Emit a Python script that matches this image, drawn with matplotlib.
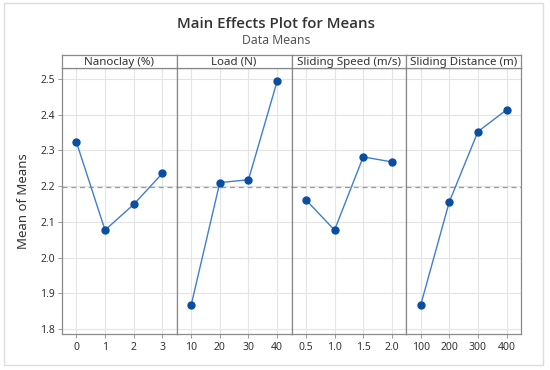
import matplotlib
matplotlib.use("Agg")
from matplotlib import pyplot as plt
from matplotlib.patches import Rectangle
import numpy as np

plt.rcParams['font.family'] = ['Noto Sans', 'DejaVu Sans']

factors = ["Nanoclay (%)", "Load (N)", "Sliding Speed (m/s)", "Sliding Distance (m)"]
nanoclay_levels = ["0", "1", "2", "3"]
load_levels = ["10", "20", "30", "40"]
speed_levels = ["0.5", "1.0", "1.5", "2.0"]
distance_levels = ["100", "200", "300", "400"]

nanoclay_means = [2.324, 2.077, 2.149, 2.236]
load_means = [1.866, 2.210, 2.218, 2.494]
speed_means = [2.162, 2.077, 2.282, 2.268]
distance_means = [1.866, 2.156, 2.353, 2.414]

levels = [nanoclay_levels, load_levels, speed_levels, distance_levels]
means = [nanoclay_means, load_means, speed_means, distance_means]
grand_mean = np.mean(nanoclay_means)

W, H = 550, 370
fig = plt.figure(figsize=(5.5, 3.7), dpi=100)

# light outer frame
fig.patches.append(Rectangle((4 / W, 1 - 365 / H), 539 / W, 362 / H, transform=fig.transFigure,
                             fill=False, edgecolor="#dddddd", linewidth=1.0))

left, right = 62, 521
top_plot, bottom_plot = 68, 334
strip_top = 55
pw = (right - left) / 4

line_col = "#3f7fcf"
marker_col = "#0a4ea3"
frame_col = "#8a8a8a"

for i in range(4):
    x0 = left + i * pw
    ax = fig.add_axes([x0 / W, 1 - bottom_plot / H, pw / W, (bottom_plot - top_plot) / H])
    x = np.arange(len(levels[i]))
    ax.plot(x, means[i], color=line_col, linewidth=1.0, zorder=3)
    ax.plot(x, means[i], "o", color=marker_col, markersize=5, zorder=4)
    ax.axhline(grand_mean, color="#9a9a9a", linestyle=(0, (4, 3)), linewidth=0.9, zorder=2)
    ax.set_xlim(-0.5, 3.5)
    ax.set_ylim(1.786, 2.531)
    ax.set_xticks(x)
    ax.set_xticklabels(levels[i], fontsize=7.5, color="#333333")
    ax.set_yticks([1.8, 1.9, 2.0, 2.1, 2.2, 2.3, 2.4, 2.5])
    ax.grid(True, color="#e4e4e4", linewidth=0.8, zorder=0)
    ax.tick_params(axis="x", length=3, width=0.6, color=frame_col, pad=3)
    for s in ax.spines.values():
        s.set_color(frame_col)
        s.set_linewidth(0.9)
    if i == 0:
        ax.set_yticklabels(["1.8", "1.9", "2.0", "2.1", "2.2", "2.3", "2.4", "2.5"], fontsize=7.5, color="#333333")
        ax.tick_params(axis="y", length=3, width=0.6, color=frame_col, pad=2)
        ax.set_ylabel("Mean of Means", fontsize=9.5, color="#333333", labelpad=7)
    else:
        ax.tick_params(axis="y", length=0, labelleft=False)
    # header strip
    hx = fig.add_axes([x0 / W, 1 - top_plot / H, pw / W, (top_plot - strip_top) / H])
    hx.set_xticks([])
    hx.set_yticks([])
    for s in hx.spines.values():
        s.set_color(frame_col)
        s.set_linewidth(0.9)
    hx.text(0.5, 0.45, factors[i], ha="center", va="center", fontsize=8.3, color="#333333",
            transform=hx.transAxes)

fig.text(276 / W, 1 - 24 / H, "Main Effects Plot for Means", ha="center", va="center",
         fontsize=10.8, fontweight="semibold", family=["Open Sans", "DejaVu Sans"], color="#333333")
fig.text(276 / W, 1 - 41 / H, "Data Means", ha="center", va="center", fontsize=8.8, color="#555555")

fig.savefig("out.png", dpi=100)
